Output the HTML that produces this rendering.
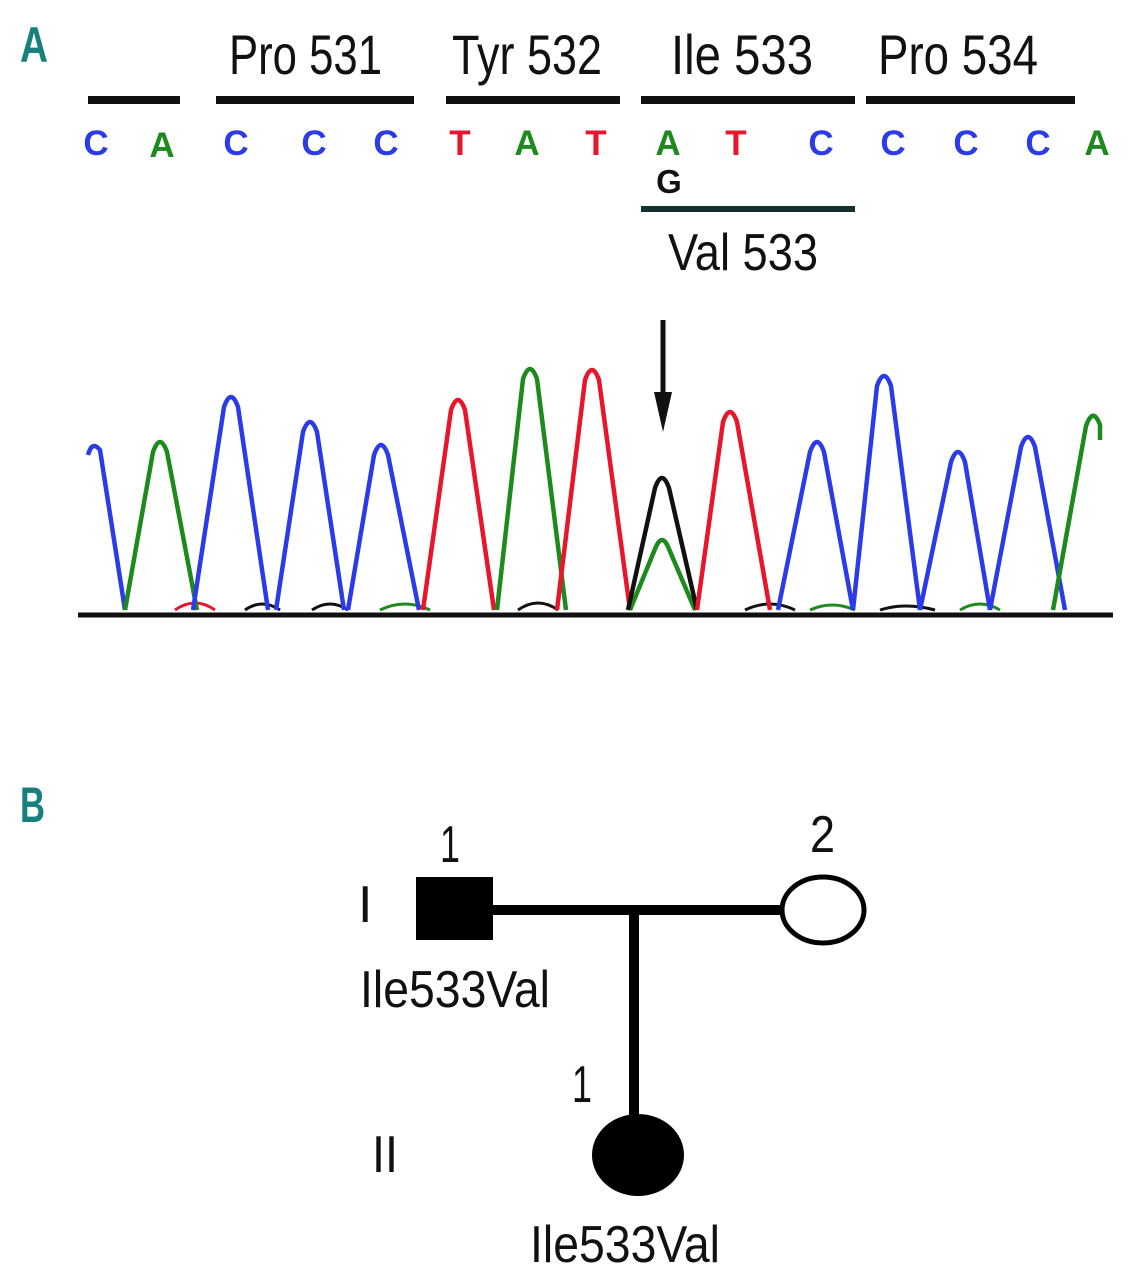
<!DOCTYPE html>
<html><head><meta charset="utf-8"><style>html,body{margin:0;padding:0;background:#fff}svg{display:block}</style></head><body>
<svg width="1137" height="1280" viewBox="0 0 1137 1280" xmlns="http://www.w3.org/2000/svg" font-family="Liberation Sans, sans-serif">
<rect width="1137" height="1280" fill="#fff"/>
<text x="20" y="62" font-size="50" font-weight="bold" fill="#17807e" textLength="28" lengthAdjust="spacingAndGlyphs">A</text>
<text x="20" y="822" font-size="50" font-weight="bold" fill="#17807e" textLength="25" lengthAdjust="spacingAndGlyphs">B</text>
<g font-size="56" fill="#111">
<text x="229" y="74" textLength="153" lengthAdjust="spacingAndGlyphs">Pro 531</text>
<text x="452" y="74" textLength="150" lengthAdjust="spacingAndGlyphs">Tyr 532</text>
<text x="671" y="74" textLength="142" lengthAdjust="spacingAndGlyphs">Ile 533</text>
<text x="878" y="74" textLength="160" lengthAdjust="spacingAndGlyphs">Pro 534</text>
<text x="668" y="270" font-size="52" textLength="150" lengthAdjust="spacingAndGlyphs">Val 533</text>
</g>
<g stroke="#111" stroke-width="8">
<line x1="88" y1="100" x2="180" y2="100"/>
<line x1="216" y1="100" x2="414" y2="100"/>
<line x1="446" y1="100" x2="620" y2="100"/>
<line x1="641" y1="100" x2="855" y2="100"/>
<line x1="866" y1="100" x2="1075" y2="100"/>
</g>
<line x1="641" y1="209" x2="855" y2="209" stroke="#15302e" stroke-width="6"/>
<g font-size="35" font-weight="bold" text-anchor="middle">
<text x="96" y="155" fill="#2b3be8">C</text>
<text x="162" y="157" fill="#1e8a1e">A</text>
<text x="236" y="155" fill="#2b3be8">C</text>
<text x="314" y="155" fill="#2b3be8">C</text>
<text x="386" y="155" fill="#2b3be8">C</text>
<text x="460" y="155" fill="#e8162a">T</text>
<text x="527" y="155" fill="#1e8a1e">A</text>
<text x="596" y="155" fill="#e8162a">T</text>
<text x="668" y="155" fill="#1e8a1e">A</text>
<text x="736" y="155" fill="#e8162a">T</text>
<text x="821" y="155" fill="#2b3be8">C</text>
<text x="893" y="155" fill="#2b3be8">C</text>
<text x="966" y="155" fill="#2b3be8">C</text>
<text x="1038" y="155" fill="#2b3be8">C</text>
<text x="1097" y="155" fill="#1e8a1e">A</text>
<text x="669" y="193" fill="#111" font-size="33">G</text>
</g>
<line x1="663" y1="320" x2="663" y2="400" stroke="#111" stroke-width="5"/>
<polygon points="654,392 672,392 663,432" fill="#111"/>
<g fill="none" stroke-width="3">
<path d="M175,610 Q195,596 215,610" stroke="#e8162a"/>
<path d="M245,610 Q262,598 280,610" stroke="#111"/>
<path d="M312,610 Q330,598 348,610" stroke="#111"/>
<path d="M380,610 Q405,598 430,610" stroke="#1e8a1e"/>
<path d="M518,610 Q538,596 558,610" stroke="#111"/>
<path d="M745,610 Q770,598 795,610" stroke="#111"/>
<path d="M810,610 Q832,600 855,610" stroke="#1e8a1e"/>
<path d="M880,610 Q905,602 935,610" stroke="#111"/>
<path d="M960,610 Q980,598 1000,610" stroke="#1e8a1e"/>
</g>
<g fill="none" stroke-width="4.5" stroke-linejoin="round">
<path d="M88,455 Q92,440 100,450 L125,610" stroke="#2b3be8"/>
<path d="M125,610 L153,452 Q160,432 167,452 L197,610" stroke="#1e8a1e"/>
<path d="M193,610 L224,407 Q231,387 238,407 L268,610" stroke="#2b3be8"/>
<path d="M276,610 L303,432 Q310,412 317,432 L344,610" stroke="#2b3be8"/>
<path d="M348,610 L374,455 Q381,435 388,455 L419,610" stroke="#2b3be8"/>
<path d="M423,610 L451,410 Q458,390 465,410 L494,610" stroke="#e8162a"/>
<path d="M497,610 L523,379 Q530,359 537,379 L566,610" stroke="#1e8a1e"/>
<path d="M557,610 L585,380 Q592,360 599,380 L630,610" stroke="#e8162a"/>
<path d="M630,610 L655,549 Q662,531 669,549 L695,610" stroke="#1e8a1e"/>
<path d="M628,610 L655,488 Q662,468 669,488 L697,610" stroke="#111"/>
<path d="M697,610 L723,422 Q730,402 737,422 L770,610" stroke="#e8162a"/>
<path d="M778,610 L810,452 Q817,432 824,452 L853,610" stroke="#2b3be8"/>
<path d="M853,610 L877,386 Q884,366 891,386 L920,610" stroke="#2b3be8"/>
<path d="M920,610 L951,462 Q958,442 965,462 L990,610" stroke="#2b3be8"/>
<path d="M990,610 L1021,447 Q1028,427 1035,447 L1065,610" stroke="#2b3be8"/>
<path d="M1053,610 L1086,426 Q1093,406 1100,425 L1100,440" stroke="#1e8a1e"/>
</g>
<line x1="78" y1="615" x2="1113" y2="615" stroke="#111" stroke-width="5"/>
<rect x="416" y="877" width="77" height="63" fill="#000"/>
<line x1="490" y1="910" x2="785" y2="910" stroke="#000" stroke-width="10"/>
<ellipse cx="823" cy="910" rx="41" ry="33" fill="#fff" stroke="#000" stroke-width="5"/>
<line x1="634" y1="910" x2="634" y2="1130" stroke="#000" stroke-width="10"/>
<ellipse cx="638" cy="1155" rx="46" ry="41" fill="#000"/>
<g font-size="52" fill="#111">
<text x="440" y="862" textLength="20" lengthAdjust="spacingAndGlyphs">1</text>
<text x="810" y="852" textLength="25" lengthAdjust="spacingAndGlyphs">2</text>
<text x="358" y="922">I</text>
<text x="360" y="1007" textLength="190" lengthAdjust="spacingAndGlyphs">Ile533Val</text>
<text x="572" y="1102" textLength="20" lengthAdjust="spacingAndGlyphs">1</text>
<text x="372" y="1172" textLength="26" lengthAdjust="spacingAndGlyphs">II</text>
<text x="530" y="1262" textLength="190" lengthAdjust="spacingAndGlyphs">Ile533Val</text>
</g>
</svg>
</body></html>
